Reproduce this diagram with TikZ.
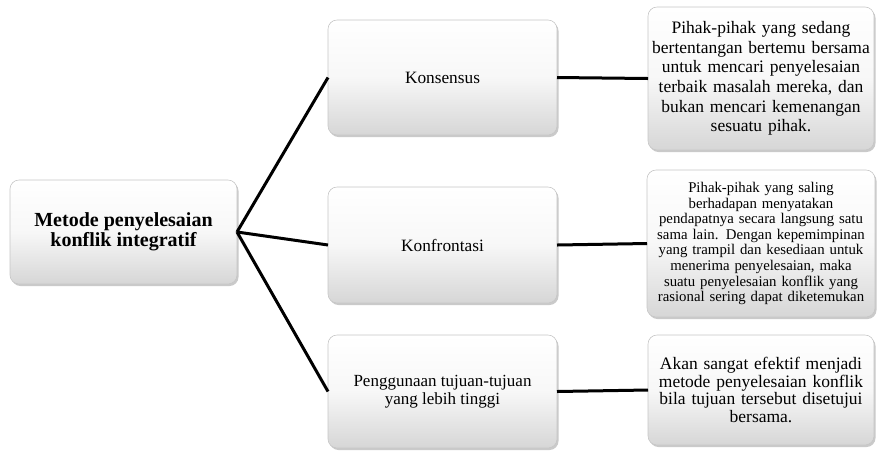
\documentclass[tikz,border=0pt]{standalone}
\usepackage{fontspec}
\setmainfont{Liberation Serif}
\usetikzlibrary{shadows}
\begin{document}
\begin{tikzpicture}[x=1pt,y=-1pt,
  box/.style={rectangle, rounded corners=9pt, top color=white, bottom color=gray!32,
    middle color=gray!6, draw=gray!45, line width=0.6pt,
    drop shadow={shadow xshift=1.5pt, shadow yshift=-2pt, fill=gray!70, opacity=0.6},
    align=center, inner sep=2pt, outer sep=0pt},
  link/.style={line width=3pt, black}]
\useasboundingbox (0,0) rectangle (877,451);
\node[box, minimum width=227pt, minimum height=104pt, font=\fontsize{20}{19.5}\selectfont\bfseries]
  (root) at (123.5,232) {Metode penyelesaian\\konflik integratif};
\node[box, minimum width=229pt, minimum height=115pt, font=\fontsize{17.3}{18}\selectfont]
  (m1) at (442.5,77.5) {Konsensus};
\node[box, minimum width=229pt, minimum height=116pt, font=\fontsize{17.3}{18}\selectfont]
  (m2) at (442.5,245) {Konfrontasi};
\node[box, minimum width=229pt, minimum height=113pt, font=\fontsize{17}{18}\selectfont]
  (m3) at (442.5,391.5) {Penggunaan tujuan-tujuan\\yang lebih tinggi};
\node[box, minimum width=226pt, minimum height=143pt, text width=222pt, font=\fontsize{17.5}{19.7}\selectfont]
  (r1) at (761,78.5) {Pihak-pihak yang sedang\\bertentangan bertemu bersama\\untuk mencari penyelesaian\\terbaik masalah mereka, dan\\bukan mencari kemenangan\\sesuatu pihak.};
\node[box, minimum width=226pt, minimum height=147pt, text width=224pt, font=\fontsize{14.8}{15.6}\selectfont]
  (r2) at (761,243.5) {Pihak-pihak yang saling\\berhadapan menyatakan\\pendapatnya secara langsung satu\\sama lain. Dengan  kepemimpinan\\yang trampil dan kesediaan untuk\\menerima penyelesaian, maka\\suatu penyelesaian konflik yang\\rasional sering dapat diketemukan};
\node[box, minimum width=226pt, minimum height=110pt, text width=222pt, font=\fontsize{17.5}{17.5}\selectfont]
  (r3) at (761,390) {Akan sangat efektif menjadi\\metode penyelesaian konflik\\bila tujuan tersebut disetujui\\bersama.};
\draw[link] (root.east) -- (m1.west);
\draw[link] (root.east) -- (m2.west);
\draw[link] (root.east) -- (m3.west);
\draw[link] (m1.east) -- (r1.west);
\draw[link] (m2.east) -- (r2.west);
\draw[link] (m3.east) -- (r3.west);
\end{tikzpicture}
\end{document}
